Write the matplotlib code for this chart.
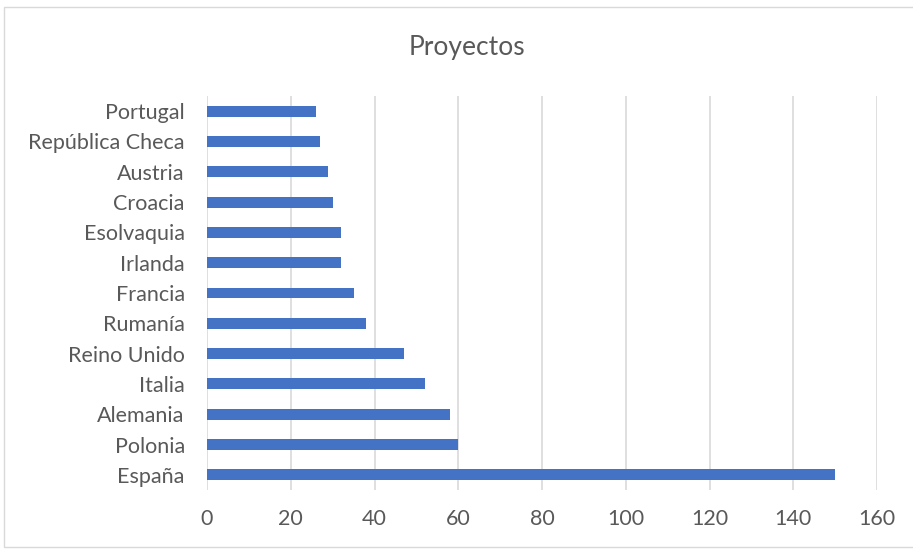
import matplotlib
matplotlib.use("Agg")
import matplotlib.pyplot as plt
from matplotlib.patches import Rectangle

# datos
paises = ["España", "Polonia", "Alemania", "Italia", "Reino Unido", "Rumanía",
          "Francia", "Irlanda", "Esolvaquia", "Croacia", "Austria",
          "República Checa", "Portugal"]
proyectos = [150, 60, 58, 52, 47, 38, 35, 32, 32, 30, 29, 27, 26]
ticks_x = [0, 20, 40, 60, 80, 100, 120, 140, 160]

plt.rcParams['font.family'] = ['Lato', 'DejaVu Sans']

W, H = 913, 550
fig = plt.figure(figsize=(W / 100, H / 100), dpi=100)
ax = fig.add_axes([207 / W, 1 - 490 / H, (877 - 207) / W, (490 - 96) / H])

# marco del grafico
fig.patches.append(Rectangle((4 / W, 3 / H), 1, 1 - 10 / H, transform=fig.transFigure,
                             fill=False, edgecolor='#d9d9d9', linewidth=1))

ax.barh(range(len(paises)), proyectos, height=0.36, color='#4472c4', zorder=3)

ax.set_xlim(0, 160)
ax.set_ylim(-0.5, len(paises) - 0.5)
ax.set_xticks(ticks_x)
ax.set_yticks(range(len(paises)))
ax.set_yticklabels(paises)
ax.tick_params(axis='both', length=0, labelsize=15.5, colors='#595959')
ax.tick_params(axis='x', pad=14)
ax.tick_params(axis='y', pad=16)

ax.grid(axis='x', color='#d9d9d9', linewidth=1.2, zorder=0)
for s in ax.spines.values():
    s.set_visible(False)

fig.text(467 / W, 1 - 47 / H, "Proyectos", ha='center', va='center',
         fontsize=19, color='#595959')

fig.savefig("out.png", dpi=100)
